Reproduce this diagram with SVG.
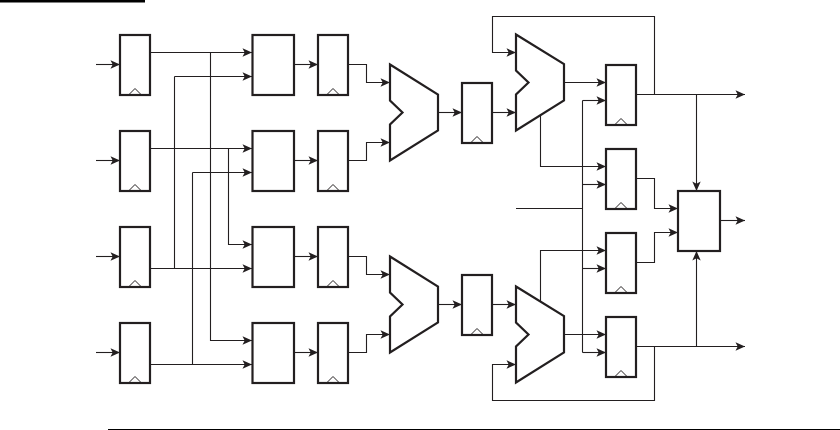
<svg xmlns="http://www.w3.org/2000/svg" width="840" height="430" viewBox="0 0 840 430">
<style>
.box{fill:#fff;stroke:#231f20;stroke-width:2.2}
.clk{fill:none;stroke:#231f20;stroke-width:1}
.w{fill:none;stroke:#231f20;stroke-width:1.1}
.a{fill:none;stroke:#231f20;stroke-width:1.1;marker-end:url(#ah)}
.rule{fill:#000;stroke:none}
</style>
<defs>
<marker id="ah" markerUnits="userSpaceOnUse" markerWidth="11" markerHeight="10" refX="9.5" refY="5" orient="auto" overflow="visible">
<path d="M0,0.8 L9.5,5 L0,9.2 L2.2,5 Z" fill="#231f20"/>
</marker>
<g id="reg"><rect class="box" x="0" y="0" width="30" height="60"/><path class="clk" d="M9.5,59 L15,53.5 L20.5,59"/></g>
</defs>
<rect x="0" y="0" width="840" height="430" fill="#fff"/>
<rect class="rule" x="0" y="0" width="145" height="2.5"/>
<rect class="rule" x="108" y="429" width="732" height="1"/>
<g id="connectors">
<path class="a" d="M96,64.5H120"/><path class="a" d="M96,160.5H120"/><path class="a" d="M96,256.5H120"/><path class="a" d="M96,352.5H120"/>
<path class="a" d="M150,52.5H252"/><path class="a" d="M174.5,76.5H252"/><path class="w" d="M174.5,76.5V268.5"/>
<path class="a" d="M150,148.5H252"/><path class="a" d="M192.5,172.5H252"/><path class="w" d="M192.5,172.5V364.5"/>
<path class="a" d="M228.5,148.5V244.5H252"/><path class="a" d="M150,268.5H252"/>
<path class="a" d="M210.5,52.5V340.5H252"/><path class="a" d="M150,364.5H252"/>
<path class="a" d="M294,64.5H318"/><path class="a" d="M294,160.5H318"/><path class="a" d="M294,256.5H318"/><path class="a" d="M294,352.5H318"/>
<path class="a" d="M348,64.5H366.5V82.5H390"/><path class="a" d="M348,160.5H366.5V142.5H390"/>
<path class="a" d="M348,256.5H366.5V274.5H390"/><path class="a" d="M348,352.5H366.5V334.5H390"/>
<path class="a" d="M438,112.5H462"/><path class="a" d="M438,304.5H462"/>
<path class="a" d="M492,112.5H516"/><path class="a" d="M492,304.5H516"/>
<path class="a" d="M654.5,94.5V16.5H492.5V52.5H516"/>
<path class="a" d="M654.5,346.5V400.5H492.5V364.5H516"/>
<path class="a" d="M564,82.5H606"/><path class="a" d="M564,334.5H606"/>
<path class="a" d="M540.5,116V166.5H606"/><path class="a" d="M540.5,301V250.5H606"/>
<path class="w" d="M516,208.5H582.5"/>
<path class="a" d="M582.5,100.5H606"/><path class="w" d="M582.5,100.5V352.5"/>
<path class="a" d="M582.5,184.5H606"/><path class="a" d="M582.5,268.5H606"/><path class="a" d="M582.5,352.5H606"/>
<path class="a" d="M636,94.5H745"/><path class="a" d="M636,346.5H745"/><path class="a" d="M720,220.5H745"/>
<path class="a" d="M696.5,94.5V191"/><path class="a" d="M696.5,346.5V251"/>
<path class="a" d="M636,178.5H654.5V208.5H678"/><path class="a" d="M636,262.5H654.5V232.5H678"/>
</g>
<g id="reg-a1"><use href="#reg" x="120" y="35"/></g>
<g id="reg-a2"><use href="#reg" x="120" y="131"/></g>
<g id="reg-a3"><use href="#reg" x="120" y="227"/></g>
<g id="reg-a4"><use href="#reg" x="120" y="323"/></g>
<g id="block-1"><rect class="box" x="252.5" y="35" width="41.5" height="60"/></g>
<g id="block-2"><rect class="box" x="252.5" y="131" width="41.5" height="60"/></g>
<g id="block-3"><rect class="box" x="252.5" y="227" width="41.5" height="60"/></g>
<g id="block-4"><rect class="box" x="252.5" y="323" width="41.5" height="60"/></g>
<g id="reg-b1"><use href="#reg" x="318" y="35"/></g>
<g id="reg-b2"><use href="#reg" x="318" y="131"/></g>
<g id="reg-b3"><use href="#reg" x="318" y="227"/></g>
<g id="reg-b4"><use href="#reg" x="318" y="323"/></g>
<g id="mux-1"><path class="box" d="M390,64.5L438,94.5V130.5L390,160.5V124.5L402.5,112.5L390,100.5Z"/></g>
<g id="mux-2"><path class="box" d="M390,256.5L438,286.5V322.5L390,352.5V316.5L402.5,304.5L390,292.5Z"/></g>
<g id="reg-c1"><use href="#reg" x="462" y="83"/></g>
<g id="reg-c2"><use href="#reg" x="462" y="275"/></g>
<g id="mux-3"><path class="box" d="M516,34.5L564,64V100.5L516,130.5V94.5L528.5,82.5L516,70.5Z"/></g>
<g id="mux-4"><path class="box" d="M516,286.5L564,316V352.5L516,382.5V346.5L528.5,334.5L516,322.5Z"/></g>
<g id="reg-d1"><use href="#reg" x="606" y="65"/></g>
<g id="reg-d2"><use href="#reg" x="606" y="149"/></g>
<g id="reg-d3"><use href="#reg" x="606" y="233"/></g>
<g id="reg-d4"><use href="#reg" x="606" y="317"/></g>
<g id="output-block"><rect class="box" x="678" y="191" width="42" height="60"/></g>
</svg>
